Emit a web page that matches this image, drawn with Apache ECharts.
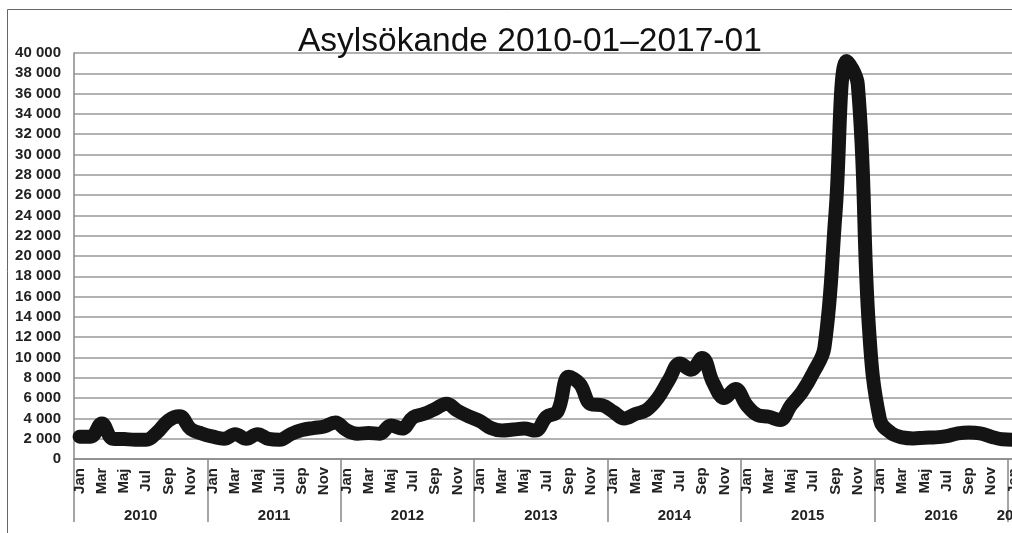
<!DOCTYPE html>
<html>
<head>
<meta charset="utf-8">
<title>Asylsökande 2010-01–2017-01</title>
<script src="https://cdn.jsdelivr.net/npm/echarts@6/dist/echarts.min.js"></script>
<style>
  html, body { margin: 0; padding: 0; background: #fff; }
  #chart { width: 1012px; height: 533px; }
</style>
</head>
<body>
<div id="chart"></div>
<script>
// kategorier
var years = ['2010', '2011', '2012', '2013', '2014', '2015', '2016', '2017'];
var monthNames = ['Jan', 'Feb', 'Mar', 'Apr', 'Maj', 'Jun', 'Jul', 'Aug', 'Sep', 'Okt', 'Nov', 'Dec'];
var monthNames2011 = ['Jan', 'Feb', 'Mar', 'Apr', 'Maj', 'Jun', 'Juli', 'Aug', 'Sep', 'Okt', 'Nov', 'Dec'];

// asylsökande per månad
var asyl2010 = [2200, 2200, 3500, 2000, 1970, 1900, 1900, 2650, 3800, 4200, 2950, 2500];
var asyl2011 = [2200, 2000, 2450, 2000, 2450, 1980, 1900, 2450, 2850, 3050, 3200, 3600];
var asyl2012 = [2850, 2500, 2550, 2500, 3300, 3000, 4100, 4450, 4950, 5450, 4750, 4200];
var asyl2013 = [3750, 3050, 2800, 2900, 3000, 2800, 4150, 4700, 8100, 7400, 5400, 5300];
var asyl2014 = [4650, 4000, 4430, 4820, 5970, 7770, 9400, 8800, 9950, 7500, 6000, 6900];
var asyl2015 = [5310, 4330, 4160, 3840, 5310, 6620, 8500, 11000, 24300, 39200, 36900, 13000];
var asyl2016 = [3840, 2560, 2130, 2030, 2100, 2130, 2260, 2530, 2620, 2530, 2200, 1940];
var asyl2017 = [1900];

var yMin = 0, yMax = 40000, yStep = 2000;

var perYear = [asyl2010, asyl2011, asyl2012, asyl2013, asyl2014, asyl2015, asyl2016, asyl2017];
var months = [];
var values = [];
perYear.forEach(function (arr, y) {
	var names = years[y] === '2011' ? monthNames2011 : monthNames;
	arr.forEach(function (v, m) {
		months.push(names[m]);
		values.push(v);
	});
});

// halvmånadssteg för årsraden: avgränsare vid årsstart, etikett mitt i året
var yearSlots = [];
for (var i = 0; i <= months.length * 2; i++) {
	yearSlots.push('');
}
years.forEach(function (yr, y) {
	yearSlots[y * 24 + perYear[y].length] = yr;
});

var font = '"Liberation Sans", Arial, sans-serif';
var labelStyle = {
	fontFamily: font,
	fontSize: 15,
	fontWeight: 'bold',
	color: '#222'
};

var chart = echarts.init(document.getElementById('chart'), null, { renderer: 'canvas' });
var option = {
	animation: false,
	backgroundColor: '#fff',
	title: {
		text: 'Asylsökande 2010-01–2017-01',
		left: 298,
		top: 25,
		padding: 0,
		textStyle: {
			fontFamily: font,
			fontSize: 33.5,
			fontWeight: 'normal',
			color: '#111'
		}
	},
	graphic: [{
		type: 'rect',
		silent: true,
		z: -10,
		shape: { x: 7.5, y: 9.5, width: 1200, height: 700 },
		style: { fill: 'none', stroke: '#666', lineWidth: 1 }
	}],
	grid: {
		left: 74,
		right: -7,
		top: 53,
		bottom: 74,
		containLabel: false,
		outerBoundsMode: 'none'
	},
	xAxis: [{
		type: 'category',
		data: months,
		boundaryGap: true,
		axisLine: { show: true, lineStyle: { color: '#888', width: 1.5 } },
		axisTick: { show: false },
		splitLine: { show: false },
		axisLabel: Object.assign({
			interval: 1,
			rotate: 90,
			align: 'center',
			verticalAlign: 'middle',
			margin: 22,
			hideOverlap: false
		}, labelStyle)
	}, {
		type: 'category',
		data: yearSlots,
		boundaryGap: false,
		position: 'bottom',
		axisLine: { show: false },
		axisTick: {
			show: true,
			length: 63,
			interval: function (idx) { return idx % 24 === 0; },
			lineStyle: { color: '#888', width: 1.5 }
		},
		splitLine: { show: false },
		axisLabel: Object.assign({
			interval: function (idx, val) { return val !== ''; },
			margin: 57,
			verticalAlign: 'middle'
		}, labelStyle)
	}],
	yAxis: {
		type: 'value',
		min: yMin,
		max: yMax,
		interval: yStep,
		axisLine: { show: true, lineStyle: { color: '#888', width: 1.5 } },
		axisTick: { show: false },
		splitLine: { lineStyle: { color: '#999', width: 1.5 } },
		axisLabel: Object.assign({
			margin: 13,
			formatter: function (v) {
				return String(v).replace(/\B(?=(\d{3})+(?!\d))/g, ' ');
			}
		}, labelStyle)
	},
	series: [{
		type: 'line',
		xAxisIndex: 0,
		data: values,
		smooth: 0.4,
		symbol: 'none',
		lineStyle: { color: '#141414', width: 14, cap: 'round', join: 'round' }
	}]
};
chart.setOption(option);
</script>
</body>
</html>
